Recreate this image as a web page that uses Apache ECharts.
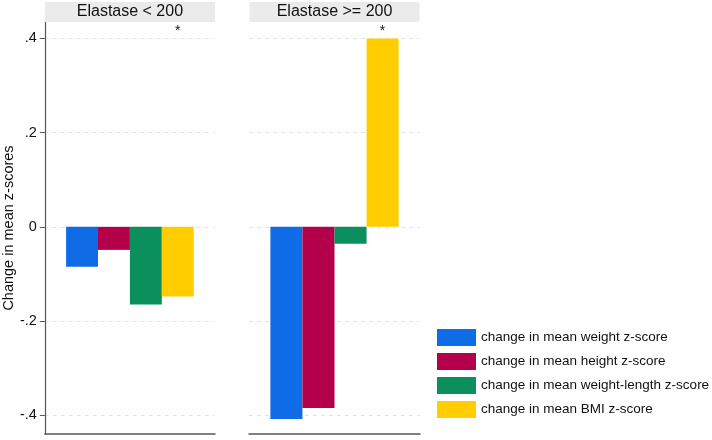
<!DOCTYPE html>
<html>
<head>
<meta charset="utf-8">
<script src="https://cdn.jsdelivr.net/npm/echarts@6/dist/echarts.min.js"></script>
<style>
  html, body { margin: 0; padding: 0; background: #fff; }
  #chart { width: 712px; height: 440px; }
</style>
</head>
<body>
<div id="chart"></div>
<script>
var panels = ['Elastase < 200', 'Elastase >= 200'];
var names = [
    'change in mean weight z-score',
    'change in mean height z-score',
    'change in mean weight-length z-score',
    'change in mean BMI z-score'
];
var colors = ['#0f6be6', '#b4004a', '#0b8f5c', '#ffcd00'];
// values per panel (Elastase < 200, Elastase >= 200)
var weightZ = [-0.085, -0.408];
var heightZ = [-0.049, -0.385];
var wlZ = [-0.165, -0.036];
var bmiZ = [-0.148, 0.400];
var starLevel = [0.4, 0.4];
var yTicks = [-0.4, -0.2, 0, 0.2, 0.4];

var values = [weightZ, heightZ, wlZ, bmiZ];
var font = 'Liberation Sans';
var gridLeft = [44, 249];
var gridWidth = 171;

function fmt(v) {
    if (v === 0) return '0';
    return (v < 0 ? '-' : '') + String(Math.abs(v)).replace(/^0/, '');
}

var grids = [], xAxes = [], yAxes = [], series = [];
panels.forEach(function (p, i) {
    grids.push({ left: gridLeft[i], width: gridWidth, top: 22, bottom: 6 });
    yAxes.push({
        type: 'value', gridIndex: i, min: -0.44, max: 0.435,
        name: i === 0 ? 'Change in mean z-scores' : '',
        nameLocation: 'middle', nameGap: 25,
        nameTextStyle: { fontFamily: font, fontSize: 14.5, color: '#111' },
        axisLine: { show: i === 0, lineStyle: { color: '#555', width: 1.2 } },
        axisTick: { show: i === 0, length: 5, customValues: yTicks, lineStyle: { color: '#555' } },
        axisLabel: {
            show: i === 0, customValues: yTicks, margin: 8, formatter: fmt,
            fontFamily: font, fontSize: 14.5, color: '#111'
        },
        splitLine: { show: true, lineStyle: { color: '#e4e4e4', type: [4, 4] } }
    });
});
panels.forEach(function (p, i) {
    xAxes.push({
        type: 'category', gridIndex: i, data: [p], position: 'bottom',
        axisLine: { show: true, onZero: false, lineStyle: { color: '#555', width: 1.5 } },
        axisTick: { show: false }, axisLabel: { show: false }
    });
});
panels.forEach(function (p, i) {
    xAxes.push({
        type: 'category', gridIndex: i, data: [p], position: 'top',
        axisLine: { show: false }, axisTick: { show: false },
        axisLabel: {
            margin: 0, width: gridWidth - 1, height: 20, lineHeight: 20, align: 'center',
            backgroundColor: '#ebebeb', fontFamily: font, fontSize: 16, color: '#111',
            overflow: 'none'
        }
    });
});
panels.forEach(function (p, i) {
    names.forEach(function (n, k) {
        series.push({
            name: n, type: 'bar', xAxisIndex: i, yAxisIndex: i,
            data: [values[k][i]],
            stack: k === 3 ? 'bmi' + i : null,
            stackStrategy: 'samesign',
            barGap: 0, barCategoryGap: '25%',
            itemStyle: { color: colors[k] }
        });
    });
    // significance marker, stacked on top of the BMI bar
    series.push({
        name: 'sig', type: 'bar', xAxisIndex: i, yAxisIndex: i,
        data: [starLevel[i] - Math.max(bmiZ[i], 0)],
        stack: 'bmi' + i, stackStrategy: 'samesign',
        barGap: 0, barCategoryGap: '25%',
        silent: true,
        itemStyle: { color: 'rgba(0,0,0,0)' },
        label: { show: true, position: 'top', distance: 0, formatter: '*',
                 fontFamily: font, fontSize: 14, color: '#111' }
    });
});

var myChart = echarts.init(document.getElementById('chart'));
myChart.setOption({
    animation: false,
    color: colors,
    grid: grids,
    xAxis: xAxes,
    yAxis: yAxes,
    legend: {
        data: names, orient: 'vertical', left: 432, top: 324,
        icon: 'rect', itemWidth: 39, itemHeight: 17, itemGap: 7,
        textStyle: { fontFamily: font, fontSize: 13.5, color: '#111' }
    },
    series: series
});
</script>
</body>
</html>
